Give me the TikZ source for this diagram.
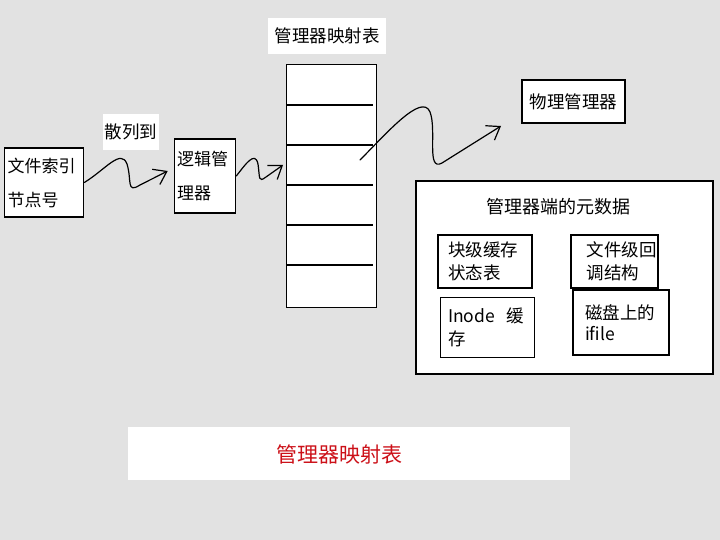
\documentclass[tikz,border=0pt]{standalone}
\usepackage{fontspec}
\setmainfont{Noto Sans CJK SC}
\usepackage{xcolor}
\usepackage{tikz}
\usetikzlibrary{arrows.meta, positioning, calc}

\definecolor{bgpaper}{RGB}{226,226,226}
\definecolor{captred}{RGB}{204,16,24}

\begin{document}
\begin{tikzpicture}[
    x=1pt, y=-1pt,
    box/.style={rectangle, draw, line width=1.6pt, fill=white,
      inner sep=3pt, font=\fontsize{17}{34}\selectfont,
      align=left, anchor=center},
    thinbox/.style={box, line width=1pt},
    subbox/.style={box, inner xsep=0pt, font=\fontsize{17.5}{23}\selectfont},
    tag/.style={rectangle, fill=white, inner sep=0pt,
      font=\fontsize{17.5}{20}\selectfont},
    wave/.style={line width=1.2pt, line cap=round,
      -{Straight Barb[length=12pt, width=17pt, line width=1.2pt]}}
]

% paper
\fill[bgpaper] (0,0) rectangle (720,540);
\useasboundingbox (0,0) rectangle (720,540);

% left side
\node[box, minimum width=79pt, minimum height=69pt,
  text width=73pt] (inodenum) at (44,182.5) {文件索引\\节点号};
\node[tag, minimum width=56pt, minimum height=36pt] (hashto) at (131,132) {散列到};
\node[box, minimum width=61pt, minimum height=74pt,
  text width=56pt, inner sep=1pt] (logicmgr) at (205,176) {逻辑管\\理器};

% mapping table
\node[tag, minimum width=118pt, minimum height=36pt] (maptitle) at (327,36) {管理器映射表};
\node[thinbox, minimum width=90pt, minimum height=242pt] (maptable) at (331,186) {};
\foreach \y in {105,145,185,225,265}
  \draw[line width=1.3pt] (286,\y) -- (373,\y);

% physical manager
\node[box, minimum width=103pt, minimum height=43pt, inner sep=1pt,
  font=\fontsize{17.5}{20}\selectfont] (physmgr) at (573.5,101.5) {物理管理器};

% metadata panel
\node[box, minimum width=297pt, minimum height=193pt] (metapanel) at (564.5,277.5) {};
\node[font=\fontsize{18}{20}\selectfont] (metatitle) at (558,207) {管理器端的元数据};
\node[subbox, minimum width=94pt, minimum height=53pt,
  text width=74pt] (blockcache) at (485,261.5) {块级缓存\\状态表};
\node[subbox, minimum width=87pt, minimum height=53pt,
  text width=72pt] (callback) at (614.5,261.5) {\hspace*{8pt}文件级回\\\hspace*{8pt}调结构};
\node[subbox, line width=1pt, minimum width=94pt, minimum height=60pt,
  text width=78pt] (inodecache) at (487,327) {\mbox{Inode\ \ 缓}\\存};
\node[subbox, minimum width=96pt, minimum height=65pt, text width=72pt,
  font=\fontsize{17.5}{21}\selectfont] (ifile) at (621,322.5) {磁盘上的\\ifile\\[16pt]};

% caption
\node[rectangle, fill=white, minimum width=442pt, minimum height=53pt] (captbox) at (349,453.5) {};
\node[text=captred, font=\fontsize{21}{24}\selectfont] (caption) at (339,455) {管理器映射表};

% wavy arrows
\coordinate (mapin) at (283,165);
\coordinate (mapout) at (360,160);
\coordinate (physin) at (501,126);

\draw[wave] (inodenum.east) .. controls (105,170) and (121,148) .. (127,164)
  .. controls (132,180) and (126,194) .. (140,185) -- ($(logicmgr.west)+(-6,-5)$);
\draw[wave] (logicmgr.east) .. controls (245,165) and (255,150) .. (258,164)
  .. controls (260,178) and (258,183) .. (266,177) -- (mapin);
\draw[wave] (mapout) .. controls (385,135) and (422,92) .. (430,112)
  .. controls (437,130) and (426,172) .. (442,163) -- (physin);

\end{tikzpicture}
\end{document}
